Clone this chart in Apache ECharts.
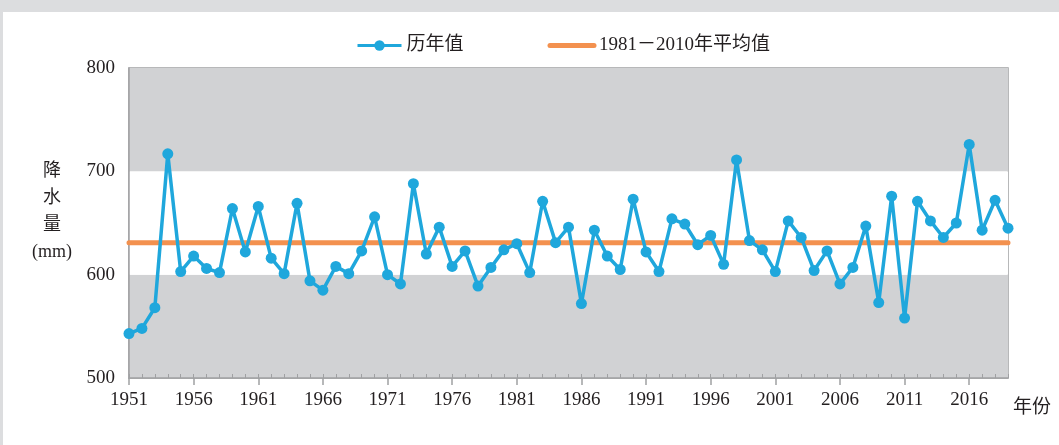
<!DOCTYPE html>
<html>
<head>
<meta charset="utf-8">
<script src="https://cdn.jsdelivr.net/npm/echarts@6/dist/echarts.min.js"></script>
<style>
  html, body { margin: 0; padding: 0; }
  body { width: 1059px; height: 445px; background: #dcdddf; position: relative; overflow: hidden; }
  #main { position: absolute; left: 3px; top: 12px; width: 1056px; height: 433px; background: #fff; }
</style>
</head>
<body>
<div id="main"></div>
<script>
const years = [];
for (let y = 1951; y <= 2019; y++) years.push(String(y));

// annual precipitation (mm)
const rainfall = [
  543, 548, 568, 717, 603, 618, 606, 602, 664, 622,
  666, 616, 601, 669, 594, 585, 608, 601, 623, 656,
  600, 591, 688, 620, 646, 608, 623, 589, 607, 624,
  630, 602, 671, 631, 646, 572, 643, 618, 605, 673,
  622, 603, 654, 649, 629, 638, 610, 711, 633, 624,
  603, 652, 636, 604, 623, 591, 607, 647, 573, 676,
  558, 671, 652, 636, 650, 726, 643, 672, 645
];
// 1981-2010 normal
const normal = 631;
const normalLine = years.map(() => normal);

const serif = "'Liberation Serif', 'Noto Sans CJK SC', serif";
const ink = "#231f20";
const frame = "#a0a1a3";

const chart = echarts.init(document.getElementById("main"));
chart.setOption({
  animation: false,
  textStyle: { fontFamily: serif },
  legend: {
    top: 19,
    left: 348,
    itemWidth: 44,
    itemHeight: 13,
    itemGap: 84,
    textStyle: { fontSize: 19, color: ink, fontFamily: serif },
    data: [
      { name: "历年值", lineStyle: { width: 3 } },
      { name: "1981－2010年平均值", lineStyle: { width: 5 } }
    ]
  },
  grid: {
    left: 126, top: 56, right: 51, bottom: 67,
    show: true, borderColor: frame, borderWidth: 1.5,
    containLabel: false
  },
  xAxis: [
    {
      type: "category",
      position: "bottom",
      boundaryGap: false,
      data: years,
      axisLine: { lineStyle: { color: frame, width: 1.5 } },
      axisTick: { interval: 0, inside: true, length: 4, lineStyle: { color: frame } },
      axisLabel: { show: false }
    },
    {
      type: "category",
      position: "bottom",
      boundaryGap: false,
      data: years,
      axisLine: { show: false },
      axisTick: { interval: 4, inside: false, length: 7, lineStyle: { color: frame, width: 1.5 } },
      axisLabel: { interval: 4, fontSize: 19, color: ink, margin: 13, fontFamily: serif }
    }
  ],
  yAxis: {
    type: "value",
    min: 500, max: 800, interval: 100,
    axisLine: { show: true, lineStyle: { color: frame, width: 1.5 } },
    axisTick: { show: false },
    axisLabel: { fontSize: 19, color: ink, margin: 14, fontFamily: serif },
    splitLine: { show: false },
    splitArea: { show: true, areaStyle: { color: ["#d1d2d4", "#ffffff"] } }
  },
  graphic: [
    {
      type: "text", x: 49, y: 146,
      style: {
        text: "降\n水\n量\n(mm)", fontSize: 18, lineHeight: 27,
        fill: ink, fontFamily: serif, align: "center"
      }
    },
    {
      type: "text", x: 1010, y: 387,
      style: { text: "年份", fontSize: 19, fill: ink, fontFamily: serif }
    }
  ],
  series: [
    {
      name: "1981－2010年平均值",
      type: "line",
      xAxisIndex: 0,
      data: normalLine,
      symbol: "line",
      showSymbol: false,
      lineStyle: { color: "#f3914f", width: 5, cap: "round" },
      itemStyle: { color: "#f3914f", borderColor: "#f3914f" },
      z: 2
    },
    {
      name: "历年值",
      type: "line",
      xAxisIndex: 0,
      data: rainfall,
      symbol: "circle",
      symbolSize: 11,
      showAllSymbol: true,
      lineStyle: { color: "#1fa7dc", width: 3.5 },
      itemStyle: { color: "#1fa7dc" },
      z: 3
    }
  ]
});
</script>
</body>
</html>
